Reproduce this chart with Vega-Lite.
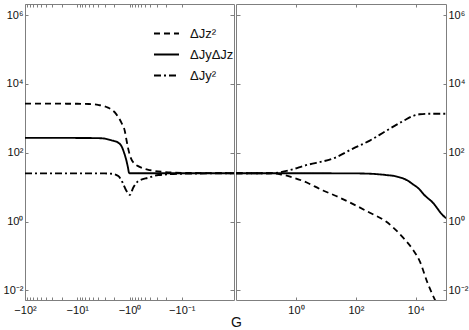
{
  "$schema": "https://vega.github.io/schema/vega-lite/v6.json",
  "padding": {"left": 0, "top": 3, "right": 0, "bottom": 0},
  "spacing": 0,
  "background": "white",
  "config": {
    "view": {"stroke": "#7f7f7f", "strokeWidth": 1},
    "font": "Liberation Sans",
    "axis": {"domain": false, "grid": false, "tickColor": "#7f7f7f", "labelColor": "#111", "labelFont": "Liberation Sans", "labelFontSize": 11, "labelOverlap": false, "labelFlush": false, "title": null}
  },
  "title": {"text": "G", "orient": "bottom", "anchor": "middle", "fontSize": 14, "fontWeight": "normal", "font": "Liberation Sans", "color": "#111", "offset": 0},
  "datasets": {
    "left": [
      {"absG": 100, "value": 2650, "series": "ΔJz²"},
      {"absG": 30, "value": 2650, "series": "ΔJz²"},
      {"absG": 10, "value": 2640, "series": "ΔJz²"},
      {"absG": 6, "value": 2600, "series": "ΔJz²"},
      {"absG": 4, "value": 2440, "series": "ΔJz²"},
      {"absG": 2.58, "value": 2040, "series": "ΔJz²"},
      {"absG": 1.78, "value": 1300, "series": "ΔJz²"},
      {"absG": 1.43, "value": 745, "series": "ΔJz²"},
      {"absG": 1.23, "value": 426, "series": "ΔJz²"},
      {"absG": 1.14, "value": 230, "series": "ΔJz²"},
      {"absG": 1.07, "value": 140, "series": "ΔJz²"},
      {"absG": 0.95, "value": 72, "series": "ΔJz²"},
      {"absG": 0.8, "value": 48, "series": "ΔJz²"},
      {"absG": 0.67, "value": 40, "series": "ΔJz²"},
      {"absG": 0.4, "value": 31, "series": "ΔJz²"},
      {"absG": 0.22, "value": 27.5, "series": "ΔJz²"},
      {"absG": 0.1, "value": 26, "series": "ΔJz²"},
      {"absG": 0.03, "value": 25.5, "series": "ΔJz²"},
      {"absG": 0.01, "value": 25.3, "series": "ΔJz²"},
      {"absG": 100, "value": 270, "series": "ΔJyΔJz"},
      {"absG": 30, "value": 270, "series": "ΔJyΔJz"},
      {"absG": 10, "value": 268, "series": "ΔJyΔJz"},
      {"absG": 5, "value": 266, "series": "ΔJyΔJz"},
      {"absG": 3.4, "value": 262, "series": "ΔJyΔJz"},
      {"absG": 2.2, "value": 229, "series": "ΔJyΔJz"},
      {"absG": 1.64, "value": 195, "series": "ΔJyΔJz"},
      {"absG": 1.43, "value": 157, "series": "ΔJyΔJz"},
      {"absG": 1.27, "value": 100, "series": "ΔJyΔJz"},
      {"absG": 1.14, "value": 57, "series": "ΔJyΔJz"},
      {"absG": 1.07, "value": 37, "series": "ΔJyΔJz"},
      {"absG": 1.02, "value": 26, "series": "ΔJyΔJz"},
      {"absG": 0.98, "value": 25.3, "series": "ΔJyΔJz"},
      {"absG": 0.3, "value": 25.3, "series": "ΔJyΔJz"},
      {"absG": 0.01, "value": 25.3, "series": "ΔJyΔJz"},
      {"absG": 100, "value": 25, "series": "ΔJy²"},
      {"absG": 10, "value": 25, "series": "ΔJy²"},
      {"absG": 3, "value": 25, "series": "ΔJy²"},
      {"absG": 2.2, "value": 24.5, "series": "ΔJy²"},
      {"absG": 1.64, "value": 21, "series": "ΔJy²"},
      {"absG": 1.35, "value": 13.4, "series": "ΔJy²"},
      {"absG": 1.14, "value": 7.7, "series": "ΔJy²"},
      {"absG": 0.98, "value": 6.0, "series": "ΔJy²"},
      {"absG": 0.85, "value": 9.6, "series": "ΔJy²"},
      {"absG": 0.68, "value": 15, "series": "ΔJy²"},
      {"absG": 0.43, "value": 18.8, "series": "ΔJy²"},
      {"absG": 0.28, "value": 22.4, "series": "ΔJy²"},
      {"absG": 0.1, "value": 24.5, "series": "ΔJy²"},
      {"absG": 0.01, "value": 25.3, "series": "ΔJy²"}
    ],
    "right": [
      {"G": 0.01, "value": 25.3, "series": "ΔJz²"},
      {"G": 0.12, "value": 25.3, "series": "ΔJz²"},
      {"G": 0.3, "value": 23.5, "series": "ΔJz²"},
      {"G": 0.8, "value": 19, "series": "ΔJz²"},
      {"G": 1.75, "value": 15, "series": "ΔJz²"},
      {"G": 8, "value": 8, "series": "ΔJz²"},
      {"G": 22, "value": 5.5, "series": "ΔJz²"},
      {"G": 293, "value": 1.8, "series": "ΔJz²"},
      {"G": 1020, "value": 1.0, "series": "ΔJz²"},
      {"G": 3780, "value": 0.34, "series": "ΔJz²"},
      {"G": 8130, "value": 0.15, "series": "ΔJz²"},
      {"G": 13500, "value": 0.071, "series": "ΔJz²"},
      {"G": 25000, "value": 0.016, "series": "ΔJz²"},
      {"G": 45000, "value": 0.005, "series": "ΔJz²"},
      {"G": 0.01, "value": 25.3, "series": "ΔJyΔJz"},
      {"G": 1, "value": 25.3, "series": "ΔJyΔJz"},
      {"G": 100, "value": 25, "series": "ΔJyΔJz"},
      {"G": 293, "value": 24.5, "series": "ΔJyΔJz"},
      {"G": 1000, "value": 22.5, "series": "ΔJyΔJz"},
      {"G": 2190, "value": 20.5, "series": "ΔJyΔJz"},
      {"G": 5000, "value": 16, "series": "ΔJyΔJz"},
      {"G": 8130, "value": 12, "series": "ΔJyΔJz"},
      {"G": 13500, "value": 8.5, "series": "ΔJyΔJz"},
      {"G": 17400, "value": 6.5, "series": "ΔJyΔJz"},
      {"G": 37400, "value": 3.5, "series": "ΔJyΔJz"},
      {"G": 81000, "value": 1.5, "series": "ΔJyΔJz"},
      {"G": 103000, "value": 1.25, "series": "ΔJyΔJz"},
      {"G": 0.01, "value": 25.3, "series": "ΔJy²"},
      {"G": 0.12, "value": 25.3, "series": "ΔJy²"},
      {"G": 0.3, "value": 27, "series": "ΔJy²"},
      {"G": 0.8, "value": 33, "series": "ΔJy²"},
      {"G": 1.75, "value": 41, "series": "ΔJy²"},
      {"G": 22, "value": 74, "series": "ΔJy²"},
      {"G": 80, "value": 132, "series": "ΔJy²"},
      {"G": 293, "value": 225, "series": "ΔJy²"},
      {"G": 1020, "value": 430, "series": "ΔJy²"},
      {"G": 3780, "value": 830, "series": "ΔJy²"},
      {"G": 8130, "value": 1170, "series": "ΔJy²"},
      {"G": 13500, "value": 1306, "series": "ΔJy²"},
      {"G": 30000, "value": 1350, "series": "ΔJy²"},
      {"G": 103000, "value": 1360, "series": "ΔJy²"}
    ]
  },
  "hconcat": [
    {
      "width": 209,
      "height": 296,
      "data": {"name": "left"},
      "layer": [
        {
          "mark": {"type": "line", "interpolate": "monotone", "clip": true, "color": "black"},
          "encoding": {
            "x": {"field": "absG", "type": "quantitative",
              "scale": {"type": "log", "domain": [0.01, 100], "reverse": true, "nice": false},
              "axis": {"orient": "bottom", "values": [100,90,80,70,60,50,40,30,20,10,9,8,7,6,5,4,3,2,1,0.9,0.8,0.7,0.6,0.5,0.4,0.3,0.2,0.1],
                "labelExpr": "datum.value===100?'−10²':datum.value===10?'−10¹':datum.value===1?'−10⁰':datum.value===0.1?'−10⁻¹':''",
                "tickSize": -3, "labelPadding": 7}},
            "y": {"field": "value", "type": "quantitative",
              "scale": {"type": "log", "domain": [0.00525, 2090000], "nice": false},
              "axis": {"orient": "left", "values": [0.01, 1, 100, 10000, 1000000],
                "labelExpr": "datum.value===1000000?'10⁶':datum.value===10000?'10⁴':datum.value===100?'10²':datum.value===1?'10⁰':'10⁻²'",
                "tickSize": -3, "labelPadding": 5, "minExtent": 24, "maxExtent": 24}},
            "strokeDash": {"field": "series", "type": "nominal",
              "scale": {"domain": ["ΔJz²", "ΔJyΔJz", "ΔJy²"], "range": [[6, 4], [1, 0], [7, 3, 2, 3]]},
              "legend": {"orient": "none", "legendX": 128, "legendY": 16, "title": null, "symbolType": "stroke", "symbolSize": 625, "symbolStrokeWidth": 2, "symbolStrokeColor": "black", "labelFontSize": 13, "labelFont": "Liberation Sans", "labelColor": "#111", "labelOffset": 10, "rowPadding": -1, "padding": 0}},
            "strokeWidth": {"field": "series", "type": "nominal",
              "scale": {"domain": ["ΔJz²", "ΔJyΔJz", "ΔJy²"], "range": [1.8, 1.9, 1.5]}, "legend": null}
          }
        },
        {
          "mark": {"type": "line", "strokeOpacity": 0},
          "encoding": {
            "x": {"field": "absG", "type": "quantitative",
              "scale": {"type": "log", "domain": [0.01, 100], "reverse": true, "nice": false},
              "axis": {"orient": "top", "values": [100,90,80,70,60,50,40,30,20,10,9,8,7,6,5,4,3,2,1,0.9,0.8,0.7,0.6,0.5,0.4,0.3,0.2,0.1], "labels": false, "tickSize": -3, "minExtent": 0, "maxExtent": 0}},
            "y": {"field": "value", "type": "quantitative",
              "scale": {"type": "log", "domain": [0.00525, 2090000], "nice": false},
              "axis": {"orient": "right", "values": [0.01, 1, 100, 10000, 1000000], "labels": false, "tickSize": -4, "minExtent": 0, "maxExtent": 0}},
            "detail": {"field": "series"}
          }
        }
      ],
      "resolve": {"axis": {"x": "independent", "y": "independent"}}
    },
    {
      "width": 210,
      "height": 296,
      "data": {"name": "right"},
      "layer": [
        {
          "mark": {"type": "line", "interpolate": "monotone", "clip": true, "color": "black"},
          "encoding": {
            "x": {"field": "G", "type": "quantitative",
              "scale": {"type": "log", "domain": [0.01, 102000], "nice": false},
              "axis": {"orient": "bottom", "values": [1, 100, 10000],
                "labelExpr": "datum.value===1?'10⁰':datum.value===100?'10²':'10⁴'",
                "tickSize": -3, "labelPadding": 7}},
            "y": {"field": "value", "type": "quantitative",
              "scale": {"type": "log", "domain": [0.00525, 2090000], "nice": false},
              "axis": {"orient": "right", "values": [0.01, 1, 100, 10000, 1000000],
                "labelExpr": "datum.value===1000000?'10⁶':datum.value===10000?'10⁴':datum.value===100?'10²':datum.value===1?'10⁰':'10⁻²'",
                "tickSize": -3, "labelPadding": 5, "minExtent": 26, "maxExtent": 26}},
            "strokeDash": {"field": "series", "type": "nominal",
              "scale": {"domain": ["ΔJz²", "ΔJyΔJz", "ΔJy²"], "range": [[6, 4], [1, 0], [7, 3, 2, 3]]}},
            "strokeWidth": {"field": "series", "type": "nominal",
              "scale": {"domain": ["ΔJz²", "ΔJyΔJz", "ΔJy²"], "range": [1.8, 1.9, 1.5]}, "legend": null}
          }
        },
        {
          "mark": {"type": "line", "strokeOpacity": 0},
          "encoding": {
            "x": {"field": "G", "type": "quantitative",
              "scale": {"type": "log", "domain": [0.01, 102000], "nice": false},
              "axis": {"orient": "top", "values": [1, 100, 10000], "labels": false, "tickSize": -3, "minExtent": 0, "maxExtent": 0}},
            "y": {"field": "value", "type": "quantitative",
              "scale": {"type": "log", "domain": [0.00525, 2090000], "nice": false},
              "axis": {"orient": "left", "values": [0.01, 1, 100, 10000, 1000000], "labels": false, "tickSize": -4, "minExtent": 0, "maxExtent": 0}},
            "detail": {"field": "series"}
          }
        }
      ],
      "resolve": {"axis": {"x": "independent", "y": "independent"}}
    }
  ],
  "resolve": {"scale": {"x": "independent", "y": "independent", "strokeDash": "shared", "strokeWidth": "shared"}, "legend": {"strokeDash": "shared", "strokeWidth": "shared"}}
}
